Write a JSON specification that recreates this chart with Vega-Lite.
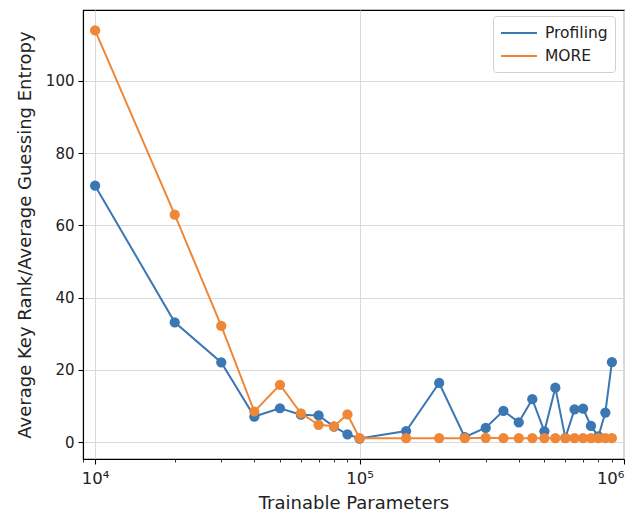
{
  "$schema": "https://vega.github.io/schema/vega-lite/v6.json",
  "autosize": {"type": "none"},
  "width": 541,
  "height": 449,
  "padding": {"left": 83, "top": 10, "right": 13, "bottom": 55},
  "background": "white",
  "data": {
    "values": [
      {"params": 10000, "value": 71, "method": "Profiling"},
      {"params": 20000, "value": 33.2, "method": "Profiling"},
      {"params": 30000, "value": 22.1, "method": "Profiling"},
      {"params": 40000, "value": 7.1, "method": "Profiling"},
      {"params": 50000, "value": 9.4, "method": "Profiling"},
      {"params": 60000, "value": 7.6, "method": "Profiling"},
      {"params": 70000, "value": 7.4, "method": "Profiling"},
      {"params": 80000, "value": 4.3, "method": "Profiling"},
      {"params": 90000, "value": 2.2, "method": "Profiling"},
      {"params": 100000, "value": 1, "method": "Profiling"},
      {"params": 150000, "value": 3.1, "method": "Profiling"},
      {"params": 200000, "value": 16.4, "method": "Profiling"},
      {"params": 250000, "value": 1.4, "method": "Profiling"},
      {"params": 300000, "value": 4.0, "method": "Profiling"},
      {"params": 350000, "value": 8.7, "method": "Profiling"},
      {"params": 400000, "value": 5.5, "method": "Profiling"},
      {"params": 450000, "value": 11.9, "method": "Profiling"},
      {"params": 500000, "value": 3.0, "method": "Profiling"},
      {"params": 550000, "value": 15.1, "method": "Profiling"},
      {"params": 600000, "value": 1.2, "method": "Profiling"},
      {"params": 650000, "value": 9.1, "method": "Profiling"},
      {"params": 700000, "value": 9.3, "method": "Profiling"},
      {"params": 750000, "value": 4.5, "method": "Profiling"},
      {"params": 800000, "value": 1.6, "method": "Profiling"},
      {"params": 850000, "value": 8.2, "method": "Profiling"},
      {"params": 900000, "value": 22.2, "method": "Profiling"},
      {"params": 10000, "value": 114, "method": "MORE"},
      {"params": 20000, "value": 63, "method": "MORE"},
      {"params": 30000, "value": 32.2, "method": "MORE"},
      {"params": 40000, "value": 8.5, "method": "MORE"},
      {"params": 50000, "value": 15.9, "method": "MORE"},
      {"params": 60000, "value": 8.0, "method": "MORE"},
      {"params": 70000, "value": 4.8, "method": "MORE"},
      {"params": 80000, "value": 4.4, "method": "MORE"},
      {"params": 90000, "value": 7.7, "method": "MORE"},
      {"params": 100000, "value": 1.1, "method": "MORE"},
      {"params": 150000, "value": 1.1, "method": "MORE"},
      {"params": 200000, "value": 1.1, "method": "MORE"},
      {"params": 250000, "value": 1.1, "method": "MORE"},
      {"params": 300000, "value": 1.2, "method": "MORE"},
      {"params": 350000, "value": 1.1, "method": "MORE"},
      {"params": 400000, "value": 1.1, "method": "MORE"},
      {"params": 450000, "value": 1.1, "method": "MORE"},
      {"params": 500000, "value": 1.1, "method": "MORE"},
      {"params": 550000, "value": 1.1, "method": "MORE"},
      {"params": 600000, "value": 1.1, "method": "MORE"},
      {"params": 650000, "value": 1.1, "method": "MORE"},
      {"params": 700000, "value": 1.1, "method": "MORE"},
      {"params": 750000, "value": 1.1, "method": "MORE"},
      {"params": 800000, "value": 1.1, "method": "MORE"},
      {"params": 850000, "value": 1.1, "method": "MORE"},
      {"params": 900000, "value": 1.1, "method": "MORE"}
    ]
  },
  "encoding": {
    "y": {
      "field": "value",
      "type": "quantitative",
      "scale": {"domain": [-4.65, 119.65], "nice": false, "zero": false},
      "axis": {
        "title": "Average Key Rank/Average Guessing Entropy",
        "values": [0, 20, 40, 60, 80, 100],
        "grid": true,
        "tickSize": 5,
        "labelPadding": 4,
        "titlePadding": 11
      }
    },
    "color": {
      "field": "method",
      "type": "nominal",
      "scale": {"domain": ["Profiling", "MORE"], "range": ["#3a77b3", "#ef8737"]},
      "legend": {
        "title": null,
        "orient": "none",
        "legendX": 410,
        "legendY": 6,
        "symbolType": "M-1,0H3",
        "symbolSize": 324,
        "symbolStrokeWidth": 2,
        "labelFontSize": 15.5,
        "labelFont": "DejaVu Sans",
        "labelColor": "#222222",
        "labelOffset": 25,
        "rowPadding": 4,
        "padding": 7,
        "strokeColor": "#d0d0d0",
        "fillColor": "white",
        "cornerRadius": 3
      }
    }
  },
  "layer": [
    {
      "transform": [{"filter": "datum.method == 'Profiling'"}],
      "mark": {"type": "line", "strokeWidth": 2},
      "encoding": {
        "x": {
          "field": "params",
          "type": "quantitative",
          "scale": {"type": "log", "domain": [9000, 1000000], "nice": false},
          "axis": {
            "title": "Trainable Parameters",
            "orient": "bottom",
            "values": [10000, 100000, 1000000],
            "labelExpr": "datum.value == 10000 ? '10⁴' : datum.value == 100000 ? '10⁵' : '10⁶'",
            "labelFontSize": 16.5,
            "grid": true,
            "tickSize": 5,
            "labelPadding": 6,
            "titlePadding": 8
          }
        }
      }
    },
    {
      "transform": [{"filter": "datum.method == 'Profiling'"}],
      "mark": {"type": "point", "filled": true, "opacity": 1, "size": 105},
      "encoding": {
        "x": {
          "field": "params",
          "type": "quantitative",
          "axis": {
            "title": null,
            "orient": "bottom",
            "values": [9000, 20000, 30000, 40000, 50000, 60000, 70000, 80000, 90000, 200000, 300000, 400000, 500000, 600000, 700000, 800000, 900000],
            "labels": false,
            "grid": false,
            "domain": false,
            "tickSize": 3,
            "tickWidth": 0.8
          }
        }
      }
    },
    {
      "transform": [{"filter": "datum.method == 'MORE'"}],
      "mark": {"type": "line", "strokeWidth": 2},
      "encoding": {
        "x": {"field": "params", "type": "quantitative", "axis": null}
      }
    },
    {
      "transform": [{"filter": "datum.method == 'MORE'"}],
      "mark": {"type": "point", "filled": true, "opacity": 1, "size": 105},
      "encoding": {
        "x": {"field": "params", "type": "quantitative", "axis": null}
      }
    }
  ],
  "resolve": {"scale": {"x": "shared"}, "axis": {"x": "independent"}},
  "config": {
    "view": {"stroke": "black", "strokeWidth": 1.1},
    "font": "DejaVu Sans",
    "axis": {
      "labelFont": "DejaVu Sans",
      "titleFont": "DejaVu Sans",
      "labelFontSize": 15,
      "titleFontSize": 18,
      "titleFontWeight": "normal",
      "labelColor": "#222222",
      "titleColor": "#222222",
      "domainColor": "black",
      "domainWidth": 1.1,
      "tickColor": "black",
      "tickWidth": 1.1,
      "gridColor": "#d9d9d9",
      "gridWidth": 1
    }
  }
}
